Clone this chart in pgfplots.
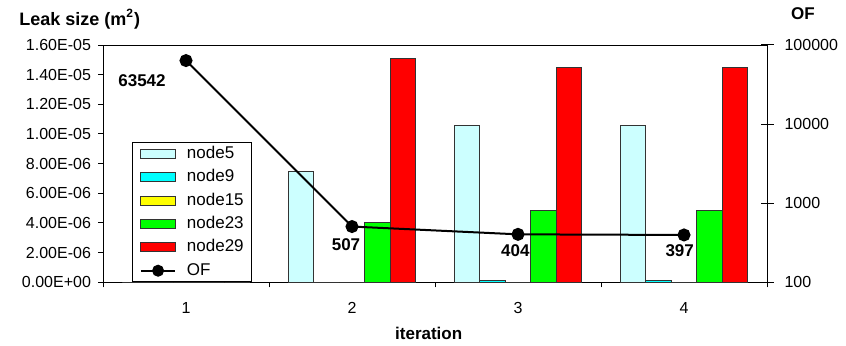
\documentclass[border=0pt]{standalone}
\usepackage{fontspec}
\setmainfont{Liberation Sans}
\usepackage{pgfplots}
\pgfplotsset{compat=1.18}
\definecolor{cfive}{HTML}{CCFFFF}
\definecolor{cnine}{HTML}{00FFFF}
\definecolor{cfifteen}{HTML}{FFFF00}
\definecolor{ctwentythree}{HTML}{00FF00}
\definecolor{ctwentynine}{HTML}{FF0000}
\pgfplotsset{
  barleg/.style={legend image code/.code={\draw[##1,draw=black!80,line width=0.5pt] (0pt,-2.25pt) rectangle (17.3pt,2.25pt);}},
  ofleg/.style={legend image code/.code={\draw[black,line width=1pt] (0pt,0pt) -- (17.3pt,0pt); \fill[black] (8.65pt,0pt) circle (2.75pt);}},
}
\begin{document}
\begin{tikzpicture}[font=\fontsize{8}{9.6}\selectfont]
\begin{axis}[name=main, scale only axis, width=332pt, height=118.65pt,
  xmin=0.5, xmax=4.5, ymin=0, ymax=1.6e-5,
  ybar=0pt, bar width=12.75pt,
  axis line style={line width=0.5pt},
  xtick={1,2,3,4}, xticklabels={1,2,3,4},
  major x tick style={draw=none},
  minor xtick={0.5,1.5,2.5,3.5,4.5},
  xtick pos=left, ytick pos=left,
  tick align=outside, major tick length=2.5pt, minor tick length=2.5pt,
  tick style={black, line width=0.5pt},
  ytick={0,2e-6,4e-6,6e-6,8e-6,1e-5,1.2e-5,1.4e-5,1.6e-5},
  yticklabels={0.00E+00,2.00E-06,4.00E-06,6.00E-06,8.00E-06,1.00E-05,1.20E-05,1.40E-05,1.60E-05},
  scaled y ticks=false,
  yticklabel style={font=\fontsize{8}{9.6}\selectfont},
  xticklabel style={font=\fontsize{8}{9.6}\selectfont, yshift=-4pt},
  legend cell align=left,
  legend style={at={(0.0432,0)}, anchor=south west, draw=black, line width=0.5pt, fill=white,
    font=\fontsize{8.5}{10}\selectfont, inner xsep=3.8pt, inner ysep=1.8pt,
    row sep=4.2pt, column sep=5.3pt,
    nodes={inner sep=0pt, text height=6pt, text depth=1.5pt}},
]
\addplot[fill=cfive, draw=black!80, line width=0.5pt, barleg] coordinates {(1,0) (2,7.50e-6) (3,1.06e-5) (4,1.06e-5)};
\addlegendentry{node5}
\addplot[fill=cnine, draw=black!80, line width=0.5pt, barleg] coordinates {(1,0) (2,0) (3,1.0e-7) (4,1.0e-7)};
\addlegendentry{node9}
\addplot[fill=cfifteen, draw=black!80, line width=0.5pt, barleg] coordinates {(1,0) (2,0) (3,0) (4,0)};
\addlegendentry{node15}
\addplot[fill=ctwentythree, draw=black!80, line width=0.5pt, barleg] coordinates {(1,0) (2,4.05e-6) (3,4.85e-6) (4,4.85e-6)};
\addlegendentry{node23}
\addplot[fill=ctwentynine, draw=black!80, line width=0.5pt, barleg] coordinates {(1,0) (2,1.51e-5) (3,1.45e-5) (4,1.45e-5)};
\addlegendentry{node29}
\addlegendimage{ofleg}
\addlegendentry{OF}
\end{axis}
\begin{axis}[scale only axis, width=332pt, height=118.65pt,
  xmin=0.5, xmax=4.5, ymode=log, ymin=100, ymax=100000,
  axis x line=none, axis y line*=right,
  axis line style={line width=0.5pt},
  ytick={100,1000,10000,100000}, yticklabels={100,1000,10000,100000},
  yminorticks=false, tick align=center, major tick length=6.5pt,
  tick style={black, line width=0.5pt},
  yticklabel style={font=\fontsize{8}{9.6}\selectfont, xshift=2pt},
]
\addplot[black, line width=1pt, mark=*, mark size=2.75pt] coordinates {(1,63542) (2,507) (3,404) (4,397)};
\begin{scope}[font=\bfseries\fontsize{8.5}{10}\selectfont]
\node[xshift=-22pt, yshift=-10.2pt] at (axis cs:1,63542) {63542};
\node[xshift=-3pt, yshift=-9.25pt] at (axis cs:2,507) {507};
\node[xshift=-1.35pt, yshift=-8.2pt] at (axis cs:3,404) {404};
\node[xshift=-2.15pt, yshift=-7.95pt] at (axis cs:4,397) {397};
\end{scope}
\end{axis}
\node[font=\bfseries\fontsize{9}{10.5}\selectfont, anchor=west, inner sep=0pt] at ([xshift=-42pt,yshift=13pt]main.north west) {Leak size (m\textsuperscript{2})};
\node[font=\bfseries\fontsize{8.5}{10}\selectfont, inner sep=0pt] at ([xshift=18pt,yshift=15.5pt]main.north east) {OF};
\node[font=\bfseries\fontsize{8.5}{10}\selectfont, inner sep=0pt] at ([xshift=162.85pt,yshift=-25.35pt]main.south west) {iteration};
\pgfresetboundingbox
\path[use as bounding box] ([xshift=-51.5pt,yshift=-31.35pt]main.south west) rectangle ([xshift=39.5pt,yshift=22.5pt]main.north east);
\end{tikzpicture}
\end{document}
